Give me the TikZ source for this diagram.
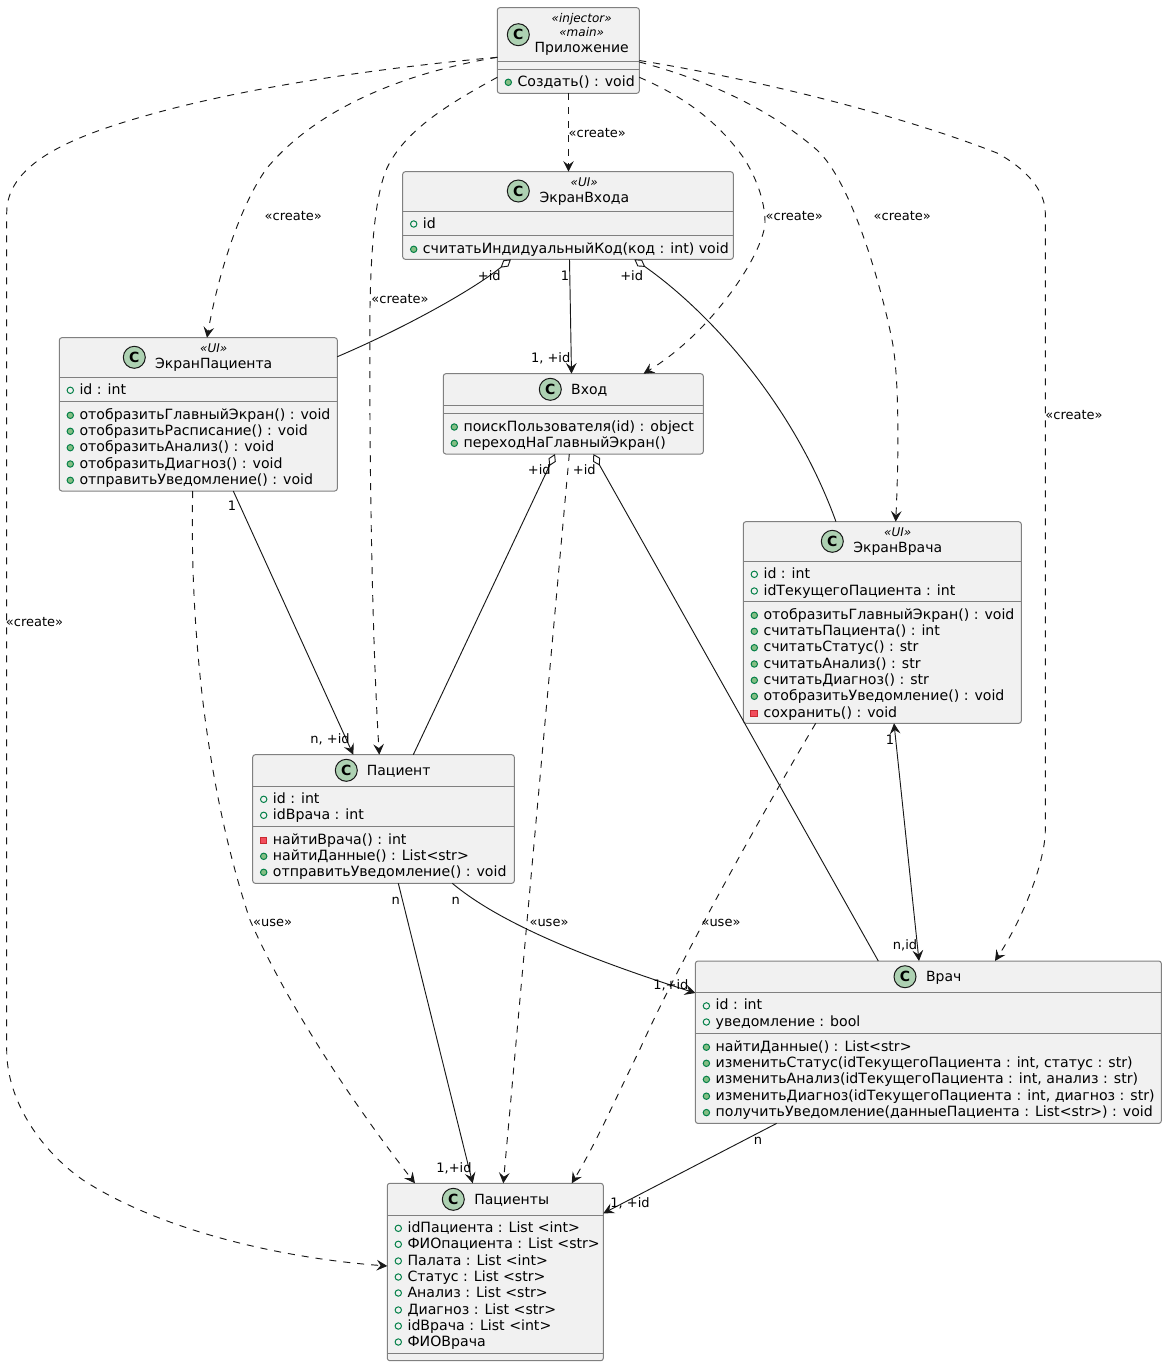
\documentclass[tikz,border=0pt]{standalone}
\usepackage{fontspec}
\setmainfont{DejaVu Sans}
\usetikzlibrary{arrows.meta}
\definecolor{ink}{HTML}{181818}
\definecolor{boxfill}{HTML}{F1F1F1}
\definecolor{spot}{HTML}{ADD1B2}
\definecolor{pubedge}{HTML}{038048}
\definecolor{pubfill}{HTML}{84BE84}
\definecolor{privedge}{HTML}{C82930}
\definecolor{privfill}{HTML}{F24D5C}
\newcounter{nid}
\tikzset{
  x=0.75pt,y=-0.75pt,
  classbox/.style={draw=ink!55,line width=0.75pt,fill=boxfill,rounded corners=1.9pt,inner sep=0pt,outer sep=0pt,anchor=north west},
  sepline/.style={draw=ink!55,line width=0.75pt},
  spotnode/.style={circle,draw=ink,line width=0.75pt,fill=spot,minimum size=16.5pt,inner sep=0pt,font=\fontsize{10.5pt}{12pt}\bfseries},
  titletext/.style={inner sep=0pt,anchor=base,font=\fontsize{10.5pt}{12pt}\selectfont,text=black},
  stereotext/.style={inner sep=0pt,anchor=base,font=\fontsize{9pt}{11pt}\itshape,text=black},
  membertext/.style={inner sep=0pt,anchor=base west,font=\fontsize{10.6pt}{12pt}\selectfont,text=black},
  edgelabel/.style={inner sep=0pt,anchor=base,font=\fontsize{9.75pt}{11pt}\selectfont,text=black},
  tipv/.tip={Stealth[length=8pt,width=8pt,inset=3pt]},
  assoc/.style={draw=ink,line width=0.7pt,-{tipv},fill=none},
  both/.style={draw=ink,line width=0.7pt,{tipv}-{tipv},fill=none},
  dep/.style={draw=ink,line width=0.7pt,-{tipv},dash pattern=on 5.25pt off 5.25pt,fill=none},
  aggr/.style={draw=ink,line width=0.7pt,{Diamond[length=10pt,width=6pt,fill=white]}-,fill=none},
  fieldmark/.style={draw=pubedge,line width=0.75pt,fill=none},
  pubmark/.style={draw=pubedge,line width=0.75pt,fill=pubfill},
  privmark/.style={draw=privedge,line width=0.75pt,fill=privfill},
}
% name, x1, y1, x2, y2, sep1, sep2
\newcommand{\classbox}[7]{%
  \pgfmathsetmacro{\bw}{(#4-#2)*0.75}\pgfmathsetmacro{\bh}{(#5-#3)*0.75}%
  \node[classbox,minimum width=\bw pt,minimum height=\bh pt] (#1) at (#2,#3) {};
  \draw[sepline] (#1.west |- 0,#6) -- (#1.east |- 0,#6);
  \draw[sepline] (#1.west |- 0,#7) -- (#1.east |- 0,#7);
}
\newcommand{\spotc}[3]{\stepcounter{nid}\node[spotnode] (n\thenid) at (#2,#3) {C};}
\newcommand{\ttitle}[3]{\stepcounter{nid}\node[titletext] (n\thenid) at (#1,#2) {#3};}
\newcommand{\tster}[3]{\stepcounter{nid}\node[stereotext] (n\thenid) at (#1,#2) {#3};}
\newcommand{\fld}[3]{\stepcounter{nid}%
  \draw[fieldmark] ({#1+11},#2) circle (2.4pt);
  \node[membertext] (n\thenid) at ({#1+20},{#2+4}) {#3};}
\newcommand{\pub}[3]{\stepcounter{nid}%
  \draw[pubmark] ({#1+11},#2) circle (2.4pt);
  \node[membertext] (n\thenid) at ({#1+20},{#2+4}) {#3};}
\newcommand{\prv}[3]{\stepcounter{nid}%
  \draw[privmark] ({#1+7.6},{#2-3.2}) rectangle ({#1+14},{#2+3.2});
  \node[membertext] (n\thenid) at ({#1+20},{#2+4}) {#3};}
\newcommand{\lab}[3]{\stepcounter{nid}\node[edgelabel] (n\thenid) at (#1,{#2+4.5}) {#3};}
\begin{document}
\begin{tikzpicture}
\useasboundingbox (0,0) rectangle (1167,1367);
% classes
\classbox{app}{497.3}{7.7}{639.3}{93.3}{61.7}{69.3}
\spotc{}{518.3}{34.7}
\tster{581.7}{22.7}{«injector»}
\tster{581.7}{36.7}{«main»}
\ttitle{581.7}{52.7}{Приложение}
\pub{497.3}{82.3}{Создать() : void}

\classbox{login}{402.7}{171.7}{733.3}{259.3}{211.7}{235.3}
\spotc{}{518.3}{191}
\tster{584.3}{186}{«UI»}
\ttitle{584.3}{202.7}{ЭкранВхода}
\fld{402.7}{224}{id}
\pub{402.7}{249.3}{считатьИндидуальныйКод(код : int) void}

\classbox{pscreen}{59.3}{337.7}{337.3}{491}{377.3}{401.7}
\spotc{}{134.3}{357.3}
\tster{213.7}{352.3}{«UI»}
\ttitle{213.7}{368.7}{ЭкранПациента}
\fld{59.3}{390.3}{id : int}
\pub{59.3}{415.3}{отобразитьГлавныйЭкран() : void}
\pub{59.3}{431.3}{отобразитьРасписание() : void}
\pub{59.3}{447.7}{отобразитьАнализ() : void}
\pub{59.3}{464}{отобразитьДиагноз() : void}
\pub{59.3}{480.3}{отправитьУведомление() : void}

\classbox{entry}{443.3}{373.7}{703.3}{454}{405.3}{413.3}
\spotc{}{550.3}{389.3}
\ttitle{589.3}{394}{Вход}
\pub{443.3}{427}{поискПользователя(id) : object}
\pub{443.3}{443.3}{переходНаГлавныйЭкран()}

\classbox{dscreen}{743.3}{521.7}{1021.3}{723.3}{561.7}{601}
\spotc{}{832.3}{541.3}
\tster{897.7}{536.7}{«UI»}
\ttitle{897.7}{552.7}{ЭкранВрача}
\fld{743.3}{574.3}{id : int}
\fld{743.3}{591}{idТекущегоПациента : int}
\pub{743.3}{615.3}{отобразитьГлавныйЭкран() : void}
\pub{743.3}{631.3}{считатьПациента() : int}
\pub{743.3}{647.7}{считатьСтатус() : str}
\pub{743.3}{664}{считатьАнализ() : str}
\pub{743.3}{680.3}{считатьДиагноз() : str}
\pub{743.3}{696.3}{отобразитьУведомление() : void}
\prv{743.3}{713.3}{сохранить() : void}

\classbox{patient}{252.7}{754.7}{514.3}{883.3}{786.3}{826.3}
\spotc{}{346.3}{770.3}
\ttitle{398.7}{775}{Пациент}
\fld{252.7}{799.3}{id : int}
\fld{252.7}{815.3}{idВрача : int}
\prv{252.7}{840.3}{найтиВрача() : int}
\pub{252.7}{856.3}{найтиДанные() : List<str>}
\pub{252.7}{872.3}{отправитьУведомление() : void}

\classbox{doctor}{695.4}{961}{1161.3}{1123.4}{992.8}{1033}
\spotc{}{905}{976.7}
\ttitle{943.7}{981.4}{Врач}
\fld{695.4}{1005.9}{id : int}
\fld{695.4}{1022}{уведомление : bool}
\pub{695.4}{1047.2}{найтиДанные() : List<str>}
\pub{695.4}{1063.3}{изменитьСтатус(idТекущегоПациента : int, статус : str)}
\pub{695.4}{1079.4}{изменитьАнализ(idТекущегоПациента : int, анализ : str)}
\pub{695.4}{1096.2}{изменитьДиагноз(idТекущегоПациента : int, диагноз : str)}
\pub{695.4}{1112.6}{получитьУведомление(данныеПациента : List<str>) : void}

\classbox{patients}{387.3}{1183.3}{603.3}{1360.7}{1215.3}{1353.3}
\spotc{}{453.3}{1199.3}
\ttitle{511.7}{1204.3}{Пациенты}
\fld{387.3}{1228.3}{idПациента : List <int>}
\fld{387.3}{1244.3}{ФИОпациента : List <str>}
\fld{387.3}{1261}{Палата : List <int>}
\fld{387.3}{1277}{Статус : List <str>}
\fld{387.3}{1293}{Анализ : List <str>}
\fld{387.3}{1310}{Диагноз : List <str>}
\fld{387.3}{1326}{idВрача : List <int>}
\fld{387.3}{1342}{ФИОВрача}

% dependencies from the application
\draw[dep] (app.south -| 568.5,0) -- (login.north -| 568.5,0);
\draw[dep] (app.west |- 0,57.3) .. controls (410,72) and (320,105) .. (267,168)
  .. controls (240,205) and (218,275) .. (pscreen.north -| 207,0);
\draw[dep] (app.west |- 0,57.3) .. controls (400,66) and (270,83) .. (166.7,110)
  .. controls (80,133) and (6.7,160) .. (6.7,213) -- (6.7,1050)
  .. controls (6.7,1100) and (40,1150) .. (83,1180)
  .. controls (160,1230) and (280,1258) .. (patients.west |- 0,1266);
\draw[dep] (app.west |- 0,77.3) .. controls (450,103) and (405,130) .. (387,168)
  .. controls (375,195) and (371,250) .. (370,307)
  .. controls (369,450) and (372,640) .. (patient.north -| 379.3,0);
\draw[dep] (app.east |- 0,77.3) .. controls (680,95) and (715,118) .. (743,157)
  .. controls (755,175) and (765,200) .. (765,222)
  .. controls (765,250) and (715,330) .. (entry.north -| 643.5,0);
\draw[dep] (app.east |- 0,62) .. controls (700,78) and (765,105) .. (817,150)
  .. controls (850,180) and (880,280) .. (892,340)
  .. controls (899,375) and (899,450) .. (dscreen.north -| 895.7,0);
\draw[dep] (app.east |- 0,60.5) .. controls (760,80) and (900,115) .. (997,153)
  .. controls (1025,168) and (1045.3,190) .. (1045.3,213) -- (1045.3,830)
  .. controls (1045.3,860) and (1025,915) .. (doctor.north -| 995,0);
% dependencies to Пациенты
\draw[dep] (pscreen.south -| 192.7,0) .. controls (190,600) and (200,770) .. (250,920)
  .. controls (285,1000) and (350,1100) .. (patients.north -| 415,0);
\draw[dep] (entry.south -| 569.3,0) -- (patients.north -| 503.3,0);
\draw[dep] (dscreen.south -| 815.7,0) .. controls (770,800) and (680,960) .. (640,1049)
  .. controls (615,1100) and (595,1145) .. (patients.north -| 571.7,0);
% aggregations
\draw[aggr] (login.south -| 511,0) .. controls (470,292) and (400,330) .. (pscreen.east |- 0,356.7);
\draw[aggr] (login.south -| 634.3,0) .. controls (700,305) and (790,395) .. (dscreen.north -| 836,0);
\draw[aggr] (entry.south -| 555,0) -- (patient.north -| 413.3,0);
\draw[aggr] (entry.south -| 593.3,0) -- (doctor.north -| 878.3,0);
% associations
\draw[assoc] (login.south -| 569.5,0) -- (entry.north -| 571.5,0);
\draw[assoc] (pscreen.south -| 233.3,0) -- (patient.north -| 353.3,0);
\draw[assoc] (patient.south -| 398.3,0) -- (patients.north -| 472.7,0);
\draw[assoc] (patient.south -| 452.3,0) .. controls (490,915) and (560,950) .. (doctor.west |- 0,993);
\draw[assoc] (doctor.south -| 776.6,0) -- (patients.east |- 0,1213.3);
\draw[both] (dscreen.south -| 894,0) -- (doctor.north -| 919,0);
% labels
\lab{597.3}{132.7}{«create»}
\lab{293.3}{215.7}{«create»}
\lab{400}{298.7}{«create»}
\lab{794.3}{215.7}{«create»}
\lab{902.3}{215.7}{«create»}
\lab{34.5}{622}{«create»}
\lab{1074}{414.5}{«create»}
\lab{272.7}{921.7}{«use»}
\lab{549}{921.7}{«use»}
\lab{721}{921.7}{«use»}
\lab{489.3}{275.7}{+id}
\lab{565}{275.7}{1}
\lab{631.7}{275.7}{+id}
\lab{550.7}{357.7}{1, +id}
\lab{539.3}{470}{+id}
\lab{584.3}{470}{+id}
\lab{232}{506}{1}
\lab{330}{738.5}{n, +id}
\lab{890}{740}{1}
\lab{905}{944.5}{n,id}
\lab{395.7}{899.5}{n}
\lab{455.7}{899.5}{n}
\lab{670.9}{985}{1,+id}
\lab{758}{1139.5}{n}
\lab{454}{1167.7}{1,+id}
\lab{630}{1202.7}{1, +id}
\end{tikzpicture}
\end{document}
